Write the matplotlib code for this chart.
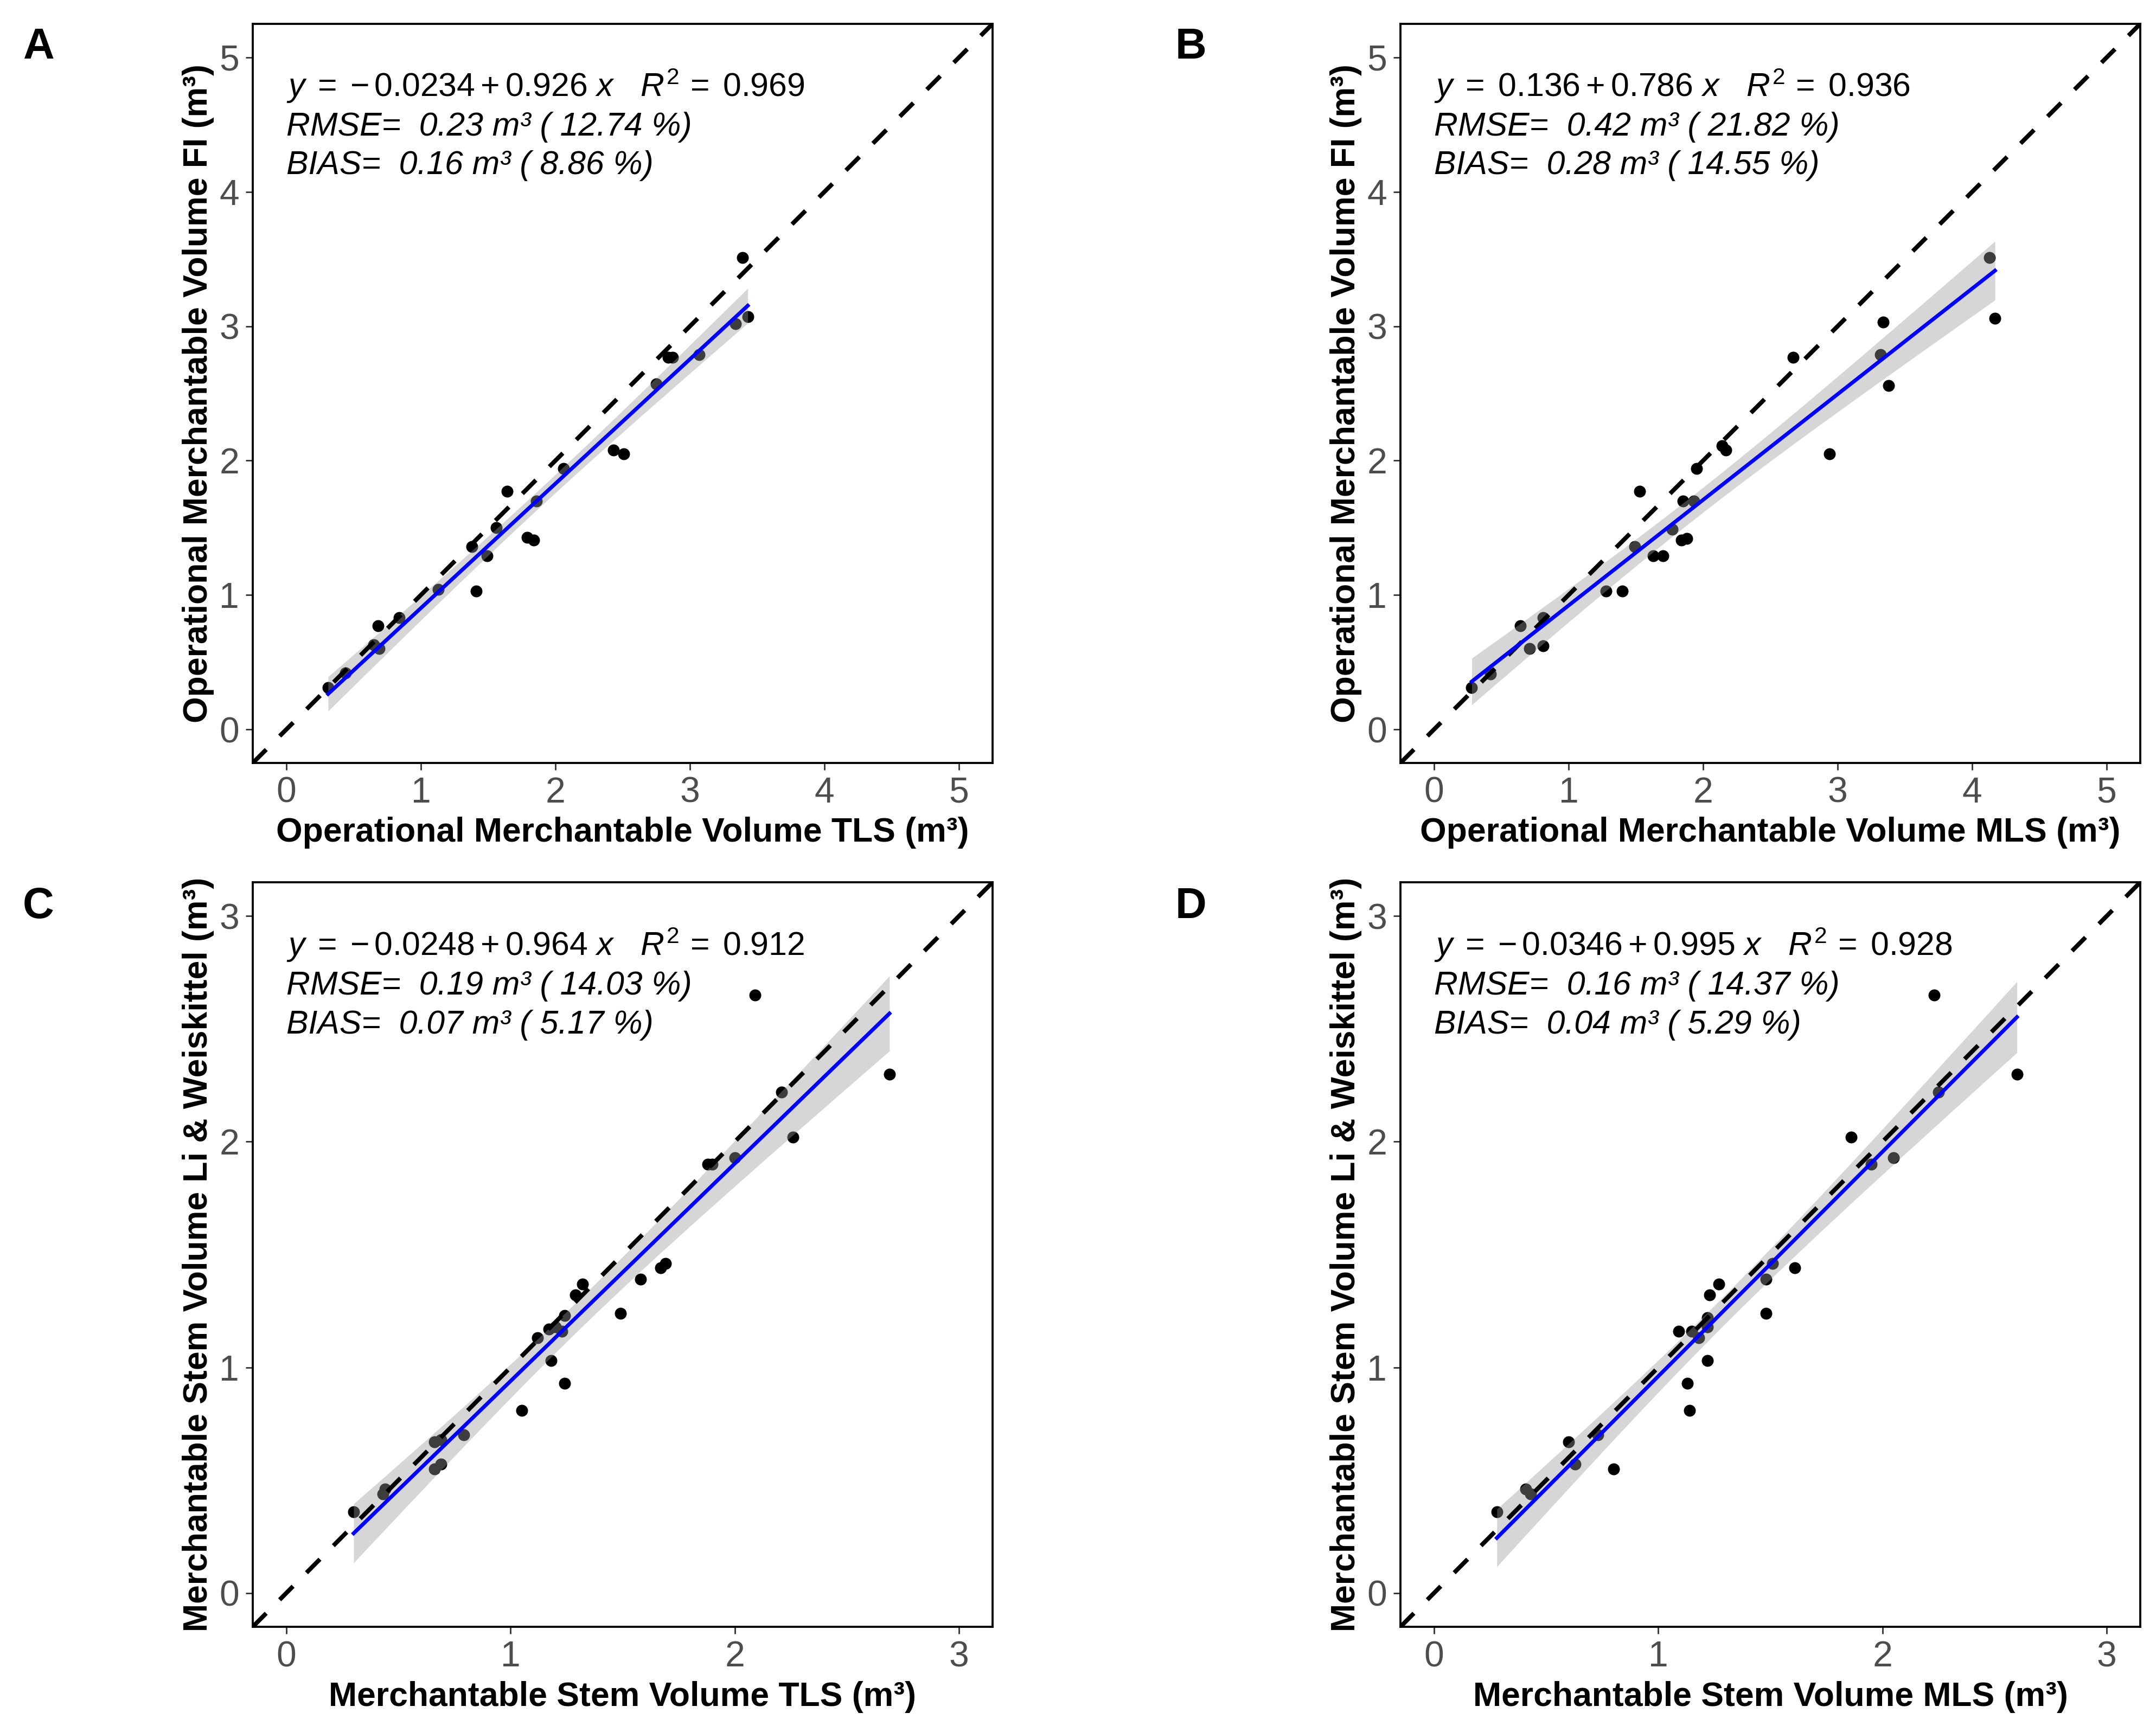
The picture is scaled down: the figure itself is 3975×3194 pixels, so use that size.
import matplotlib

matplotlib.use("Agg")
import matplotlib.pyplot as plt
import matplotlib.transforms as mtransforms
import numpy as np

plt.rcParams["font.family"] = ["Liberation Sans", "DejaVu Sans"]
plt.rcParams["mathtext.fontset"] = "custom"
plt.rcParams["mathtext.rm"] = "Liberation Sans"
plt.rcParams["mathtext.it"] = "Liberation Sans:italic"
plt.rcParams["mathtext.bf"] = "Liberation Sans:bold"

# panel A: TLS vs FI (operational merchantable volume)
a_x = [0.31, 0.44, 0.68, 0.65, 0.69, 0.84, 1.13, 1.38, 1.41, 1.49, 1.56, 1.64, 1.79,
       1.84, 1.86, 2.06, 2.43, 2.51, 2.75, 2.84, 2.87, 3.07, 3.34, 3.39, 3.43]
a_y = [0.31, 0.42, 0.77, 0.63, 0.60, 0.83, 1.04, 1.36, 1.03, 1.29, 1.50, 1.77, 1.43,
       1.41, 1.70, 1.94, 2.08, 2.05, 2.57, 2.77, 2.77, 2.79, 3.02, 3.51, 3.07]

# panel B: MLS vs FI
b_x = [0.28, 0.42, 0.64, 0.71, 0.81, 0.81, 1.28, 1.40, 1.49, 1.53, 1.63, 1.70, 1.77,
       1.84, 1.88, 1.85, 1.93, 1.95, 2.14, 2.17, 2.67, 2.94, 3.32, 3.34, 3.38, 4.13, 4.17]
b_y = [0.31, 0.41, 0.77, 0.60, 0.62, 0.83, 1.03, 1.03, 1.36, 1.77, 1.29, 1.29, 1.49,
       1.41, 1.42, 1.70, 1.70, 1.94, 2.11, 2.08, 2.77, 2.05, 2.79, 3.03, 2.56, 3.51, 3.06]

# panel C: TLS vs Li & Weiskittel (merchantable stem volume)
c_x = [0.30, 0.44, 0.43, 0.66, 0.69, 0.66, 0.69, 0.79, 1.05, 1.12, 1.17, 1.20, 1.23,
       1.18, 1.24, 1.24, 1.29, 1.32, 1.49, 1.58, 1.67, 1.69, 1.88, 1.90, 2.00, 2.09,
       2.21, 2.26, 2.69]
c_y = [0.36, 0.46, 0.44, 0.67, 0.68, 0.55, 0.57, 0.70, 0.81, 1.13, 1.17, 1.18, 1.16,
       1.03, 1.23, 0.93, 1.32, 1.37, 1.24, 1.39, 1.44, 1.46, 1.90, 1.90, 1.93, 2.65,
       2.22, 2.02, 2.30]

# panel D: MLS vs Li & Weiskittel
d_x = [0.28, 0.41, 0.43, 0.60, 0.63, 0.73, 0.80, 1.09, 1.13, 1.14, 1.15, 1.18, 1.22,
       1.22, 1.23, 1.27, 1.22, 1.48, 1.48, 1.51, 1.61, 1.86, 1.95, 2.05, 2.23, 2.25, 2.60]
d_y = [0.36, 0.46, 0.44, 0.67, 0.57, 0.70, 0.55, 1.16, 0.93, 0.81, 1.16, 1.13, 1.03,
       1.22, 1.32, 1.37, 1.18, 1.24, 1.39, 1.46, 1.44, 2.02, 1.90, 1.93, 2.65, 2.22, 2.30]

panel_letters = ["A", "B", "C", "D"]
intercepts = [-0.0234, 0.136, -0.0248, -0.0346]
slopes = [0.926, 0.786, 0.964, 0.995]
eq_text = [
    r"$y\;=\;{-}\,0.0234 + 0.926\ x\quad R^2\,=\;0.969$",
    r"$y\;=\;0.136 + 0.786\ x\quad R^2\,=\;0.936$",
    r"$y\;=\;{-}\,0.0248 + 0.964\ x\quad R^2\,=\;0.912$",
    r"$y\;=\;{-}\,0.0346 + 0.995\ x\quad R^2\,=\;0.928$",
]
rmse_text = ["0.23 m³ ( 12.74 %)", "0.42 m³ ( 21.82 %)", "0.19 m³ ( 14.03 %)", "0.16 m³ ( 14.37 %)"]
bias_text = ["0.16 m³ ( 8.86 %)", "0.28 m³ ( 14.55 %)", "0.07 m³ ( 5.17 %)", "0.04 m³ ( 5.29 %)"]
x_labels = [
    "Operational Merchantable Volume TLS (m³)",
    "Operational Merchantable Volume MLS (m³)",
    "Merchantable Stem Volume TLS (m³)",
    "Merchantable Stem Volume MLS (m³)",
]
y_labels = [
    "Operational Merchantable Volume FI (m³)",
    "Operational Merchantable Volume FI (m³)",
    "Merchantable Stem Volume Li & Weiskittel (m³)",
    "Merchantable Stem Volume Li & Weiskittel (m³)",
]
axis_max = [5, 5, 3, 3]

W, H = 3975, 3194
POSITIONS = [
    (466, 44, 1364, 1363),
    (2582, 44, 1364, 1363),
    (466, 1627, 1364, 1373),
    (2582, 1627, 1364, 1373),
]
LETTER_POS = [(71, 88), (2196, 88), (71, 1672), (2196, 1672)]


def band(x, y, b0, b1, t=2.06):
    x = np.asarray(x)
    y = np.asarray(y)
    n = len(x)
    resid = y - (b0 + b1 * x)
    s = np.sqrt(np.sum(resid ** 2) / (n - 2))
    xs = np.linspace(x.min(), x.max(), 80)
    se = s * np.sqrt(1.0 / n + (xs - x.mean()) ** 2 / np.sum((x - x.mean()) ** 2))
    fit = b0 + b1 * xs
    return xs, fit, fit - t * se, fit + t * se


def draw_panel(ax, i, x, y):
    vmax = axis_max[i]
    pad = vmax * 0.05
    ax.set_xlim(-pad, vmax + pad)
    ax.set_ylim(-pad, vmax + pad)

    ax.scatter(x, y, s=40, c="black", linewidths=0, zorder=2)
    xs, fit, lo, hi = band(x, y, intercepts[i], slopes[i])
    ax.fill_between(xs, lo, hi, color="#999999", alpha=0.4, linewidth=0, zorder=3)
    lim = np.array([-pad, vmax + pad])
    ax.plot(lim, lim, color="black", lw=2.3, linestyle=(0, (4.4, 4.4)), zorder=4)
    ax.plot(xs, fit, color="#0000ff", lw=2.0, zorder=5)

    ticks = np.arange(0, vmax + 1)
    ax.set_xticks(ticks)
    ax.set_yticks(ticks)
    ax.tick_params(axis="both", length=3.7, width=0.8, color="#333333",
                   labelsize=19, labelcolor="#4d4d4d", pad=3.5)
    for sp in ax.spines.values():
        sp.set_linewidth(1.1)
        sp.set_color("black")

    ax.set_xlabel(x_labels[i], fontsize=18, fontweight="bold")
    ax.set_ylabel(y_labels[i], fontsize=18, fontweight="bold")
    ax.xaxis.set_label_coords(0.5, -0.073)
    ax.yaxis.set_label_coords(-0.052, 0.5)

    tr = mtransforms.blended_transform_factory(ax.transData, ax.transAxes)
    ax.text(0, 0.902, eq_text[i], transform=tr, fontsize=17.5, va="baseline", ha="left")
    ax.text(0, 0.849, "RMSE=  " + rmse_text[i], transform=tr, fontsize=17.5,
            style="italic", va="baseline", ha="left")
    ax.text(0, 0.797, "BIAS=  " + bias_text[i], transform=tr, fontsize=17.5,
            style="italic", va="baseline", ha="left")


fig = plt.figure(figsize=(W / 250, H / 250), dpi=250)
data = [(a_x, a_y), (b_x, b_y), (c_x, c_y), (d_x, d_y)]
for i, (x, y) in enumerate(data):
    left, top, w, h = POSITIONS[i]
    ax = fig.add_axes([left / W, 1 - (top + h) / H, w / W, h / H])
    draw_panel(ax, i, x, y)
    lx, ly = LETTER_POS[i]
    fig.text(lx / W, 1 - ly / H, panel_letters[i], fontsize=23, fontweight="bold",
             ha="center", va="center")

fig.savefig("out.png", dpi=250)
